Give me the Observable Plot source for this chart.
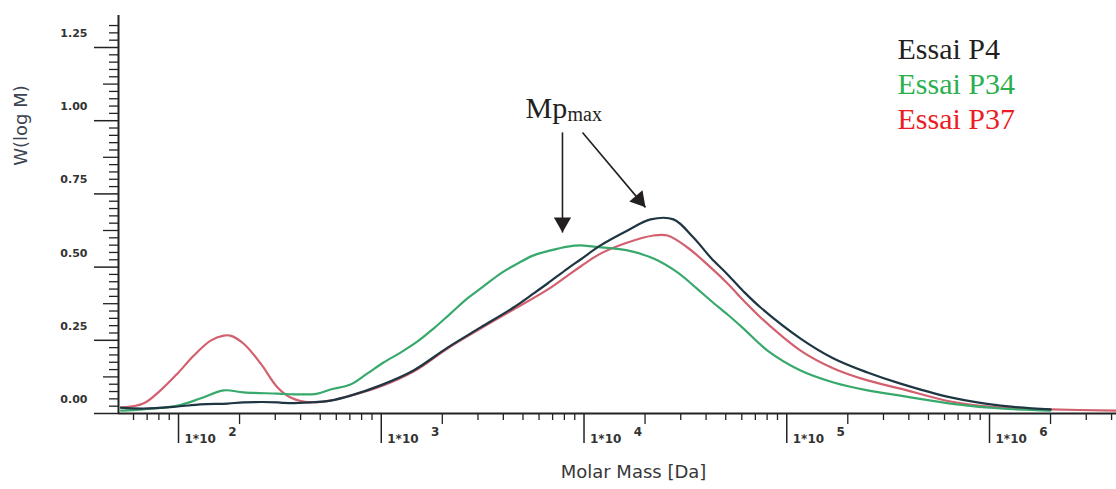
<!DOCTYPE html>
<html><head><meta charset="utf-8">
<script src="https://cdn.jsdelivr.net/npm/d3@7"></script>
<script src="https://cdn.jsdelivr.net/npm/@observablehq/plot@0.6"></script>
<style>html,body{margin:0;padding:0;background:#fff;overflow:hidden}</style>
</head><body><div id="chart"></div>
<script>
// ---- data (molar mass in Da, W(log M)) ----
const seriesNames = ["Essai P4", "Essai P34", "Essai P37"];
const legendColors = ["#231f20", "#2bb04f", "#ec1c24"];
const lineColors = ["#1d3642", "#38a96c", "#d2606e"];

const massP4 = [52, 67, 99, 128, 175, 209, 308, 329, 448, 562, 705, 991, 1442, 2123, 3090, 4488, 5640, 6607, 8300, 9616, 12060, 16400, 21290, 27620, 34650, 42100, 51050, 61200, 74290, 116950, 170200, 250300, 363900, 642700, 1133000, 2000000];
const wP4 = [0.020, 0.017, 0.024, 0.031, 0.034, 0.038, 0.038, 0.036, 0.038, 0.044, 0.061, 0.096, 0.147, 0.225, 0.294, 0.362, 0.410, 0.444, 0.495, 0.526, 0.574, 0.625, 0.663, 0.663, 0.601, 0.533, 0.475, 0.417, 0.362, 0.256, 0.188, 0.140, 0.102, 0.055, 0.027, 0.014];

const massP34 = [52, 67, 99, 128, 167, 209, 308, 386, 485, 562, 705, 855, 1025, 1245, 1510, 1810, 2200, 2660, 3190, 3870, 4695, 5640, 6850, 8300, 9616, 11140, 16400, 22030, 28900, 34650, 42100, 51050, 61200, 80350, 116950, 170200, 250300, 363900, 642700, 1133000, 2000000];
const wP34 = [0.010, 0.014, 0.027, 0.051, 0.079, 0.072, 0.068, 0.065, 0.068, 0.082, 0.099, 0.137, 0.174, 0.208, 0.246, 0.290, 0.342, 0.393, 0.434, 0.478, 0.512, 0.540, 0.557, 0.570, 0.574, 0.570, 0.557, 0.529, 0.482, 0.437, 0.386, 0.338, 0.290, 0.215, 0.147, 0.106, 0.079, 0.061, 0.034, 0.017, 0.010];

const massP37 = [52, 67, 81.5, 99, 119, 144, 167, 180, 209, 254, 308, 357, 448, 562, 705, 991, 1442, 2123, 3090, 4488, 6607, 8300, 9616, 12060, 16400, 22030, 25820, 32380, 42100, 51050, 61200, 74290, 116950, 170200, 250300, 363900, 642700, 1133000, 2000000, 4230000];
const wP37 = [0.020, 0.034, 0.079, 0.137, 0.198, 0.249, 0.266, 0.266, 0.239, 0.171, 0.089, 0.055, 0.038, 0.044, 0.061, 0.092, 0.143, 0.222, 0.290, 0.355, 0.423, 0.471, 0.502, 0.546, 0.584, 0.608, 0.608, 0.567, 0.499, 0.444, 0.386, 0.328, 0.215, 0.154, 0.113, 0.085, 0.041, 0.020, 0.014, 0.010];

// ---- ticks ----
const xMajorTicks = [1e2, 1e3, 1e4, 1e5, 1e6];
const xTickBase = "1*10";
const xTickExponents = ["2", "3", "4", "5", "6"];
const yMajorTicks = [0, 0.25, 0.5, 0.75, 1.0, 1.25];
const yTickLabels = ["0.00", "0.25", "0.50", "0.75", "1.00", "1.25"];
const xTitle = "Molar Mass [Da]";
const yTitle = "W(log M)";

// annotation (Mp max arrows, in data units)
const mpArrows = [
  {x1: 7830, y1: 0.96, x2: 7830, y2: 0.618},
  {x1: 9830, y1: 0.96, x2: 20100, y2: 0.704}
];

const xDomain = [50.58, 4.2301e6];
const yDomain = [0, 1.3593];

const xMinorTicks = [];
for (let d = 1; d <= 6; d++) for (let k = 2; k <= 9; k++) {
  const v = k * Math.pow(10, d);
  if (v > xDomain[0] && v < xDomain[1]) xMinorTicks.push(v);
}
const xTwoTicks = xMinorTicks.filter(v => Math.abs(v / Math.pow(10, Math.floor(Math.log10(v) + 1e-9)) - 2) < 1e-6);
const xOtherMinor = xMinorTicks.filter(v => !xTwoTicks.includes(v));
const yAllMinor = d3.range(0, 54).map(i => +(i * 0.025).toFixed(3));
const yMidTicks = yAllMinor.filter(v => Math.abs((v / 0.125) - Math.round(v / 0.125)) < 1e-6 && Math.abs((v / 0.25) - Math.round(v / 0.25)) > 1e-6);
const yMinorTicks = yAllMinor.filter(v => !yMidTicks.includes(v) && !yMajorTicks.includes(v));

const seriesData = [
  {mass: massP4, w: wP4}, {mass: massP34, w: wP34}, {mass: massP37, w: wP37}
].map((s, k) => s.mass.map((m, i) => ({series: seriesNames[k], mass: m, w: s.w[i]})));

const axisColor = "#222";
const labelFont = "DejaVu Sans";
const drawOrder = [2, 1, 0];

const plot = Plot.plot({
  width: 1116, height: 489,
  marginLeft: 118, marginRight: 0, marginTop: 15, marginBottom: 76,
  style: {background: "#fff", overflow: "visible"},
  x: {type: "log", domain: xDomain, axis: null, label: null},
  y: {domain: yDomain, axis: null, label: null},
  marks: [
    // y ticks
    Plot.axisY({ticks: yMinorTicks, tickSize: 9, tickFormat: () => "", label: null, stroke: axisColor, strokeWidth: 1.3}),
    Plot.axisY({ticks: yMidTicks, tickSize: 15, tickFormat: () => "", label: null, stroke: axisColor, strokeWidth: 1.3}),
    Plot.axisY({ticks: yMajorTicks, tickSize: 24, tickFormat: () => "", label: null, stroke: axisColor, strokeWidth: 1.5}),
    Plot.text(yMajorTicks, {y: d => d, text: (d, i) => yTickLabels[i], frameAnchor: "left", dx: -31, dy: -14,
      textAnchor: "end", lineAnchor: "middle", fontFamily: labelFont, fontWeight: "bold", fontSize: 11, fill: "#333"}),
    // x ticks
    Plot.axisX({ticks: xOtherMinor, tickSize: 7, tickFormat: () => "", label: null, stroke: axisColor, strokeWidth: 1.3}),
    Plot.axisX({ticks: xTwoTicks, tickSize: 11, tickFormat: () => "", label: null, stroke: axisColor, strokeWidth: 1.3}),
    Plot.axisX({ticks: xMajorTicks, tickSize: 30, tickFormat: () => "", label: null, stroke: axisColor, strokeWidth: 1.5}),
    Plot.text(xMajorTicks, {x: d => d, text: () => xTickBase, frameAnchor: "bottom", dx: 6, dy: 26,
      textAnchor: "start", lineAnchor: "middle", fontFamily: labelFont, fontWeight: "bold", fontSize: 12, fill: "#333"}),
    Plot.text(xMajorTicks, {x: d => d, text: (d, i) => xTickExponents[i], frameAnchor: "bottom", dx: 54, dy: 19,
      textAnchor: "middle", lineAnchor: "middle", fontFamily: labelFont, fontWeight: "bold", fontSize: 12, fill: "#333"}),
    // axis lines
    Plot.ruleY([0], {stroke: axisColor, strokeWidth: 2}),
    Plot.ruleX([xDomain[0]], {stroke: axisColor, strokeWidth: 2}),
    // axis titles
    Plot.text([xTitle], {frameAnchor: "bottom", dx: 16, dy: 59, textAnchor: "middle", lineAnchor: "middle",
      fontFamily: labelFont, fontSize: 18, fill: "#383838"}),
    Plot.text([yTitle], {frameAnchor: "top-left", dx: -97, dy: 110, rotate: -90, textAnchor: "middle", lineAnchor: "middle",
      fontFamily: labelFont, fontSize: 18, fill: "#3c4450"}),
    // curves
    ...drawOrder.map(k => Plot.line(seriesData[k], {x: "mass", y: "w", stroke: lineColors[k], strokeWidth: 2.2, curve: "catmull-rom"})),
    // legend
    ...seriesNames.map((name, k) => Plot.text([name], {frameAnchor: "top-right", dx: -219, dy: 33.7 + k * 35,
      textAnchor: "start", lineAnchor: "middle", fontFamily: "Liberation Serif", fontSize: 30, fill: legendColors[k]})),
    // Mp max annotation
    Plot.text(["Mp"], {frameAnchor: "top-left", dx: 407, dy: 92.4, textAnchor: "start", lineAnchor: "middle",
      fontFamily: "Liberation Serif", fontSize: 30, fill: "#231f20"}),
    Plot.text(["max"], {frameAnchor: "top-left", dx: 449, dy: 98.6, textAnchor: "start", lineAnchor: "middle",
      fontFamily: "Liberation Serif", fontSize: 20, fill: "#231f20"}),
    Plot.link(mpArrows, {x1: "x1", y1: "y1", x2: "x2", y2: "y2", stroke: "#231f20", strokeWidth: 1.6}),
    Plot.dot([mpArrows[0]], {x: "x2", y: "y2", symbol: "triangle", r: 6.4, rotate: 180, dy: -10, fill: "#231f20", stroke: "none"}),
    Plot.dot([mpArrows[1]], {x: "x2", y: "y2", symbol: "triangle", r: 6.4, rotate: 140, dx: -6.4, dy: -7.7, fill: "#231f20", stroke: "none"})
  ]
});
document.getElementById("chart").appendChild(plot);
</script>
</body></html>
